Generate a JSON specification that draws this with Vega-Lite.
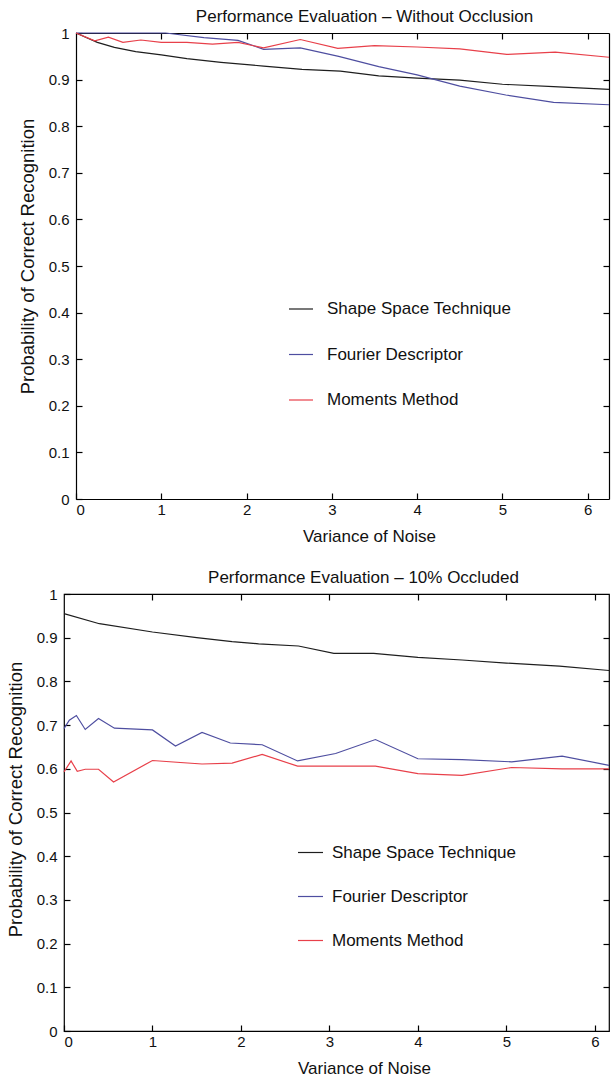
{
  "$schema": "https://vega.github.io/schema/vega-lite/v6.json",
  "padding": {"left": 5, "top": 8, "right": 0, "bottom": 0},
  "background": "#ffffff",
  "config": {
    "view": {"stroke": "#000000", "strokeWidth": 1.2},
    "font": "Liberation Sans",
    "axis": {
      "grid": false,
      "domain": false,
      "domainColor": "#000000",
      "domainWidth": 1.2,
      "tickColor": "#000000",
      "tickWidth": 1.2,
      "tickSize": -6,
      "labelFont": "Liberation Sans",
      "labelFontSize": 15,
      "labelColor": "#111111",
      "titleFont": "Liberation Sans",
      "titleFontSize": 17,
      "titleFontWeight": "normal",
      "titleColor": "#111111"
    },
    "legend": {
      "labelFont": "Liberation Sans",
      "labelFontSize": 17,
      "labelColor": "#111111",
      "labelLimit": 400,
      "padding": 0
    },
    "title": {"font": "Liberation Sans", "fontSize": 17, "fontWeight": "normal", "color": "#111111"}
  },
  "datasets": {
    "top": [
      {"method": "Shape Space Technique", "v": 0, "p": 1.0},
      {"method": "Shape Space Technique", "v": 0.25, "p": 0.980},
      {"method": "Shape Space Technique", "v": 0.45, "p": 0.969},
      {"method": "Shape Space Technique", "v": 0.7, "p": 0.960},
      {"method": "Shape Space Technique", "v": 1.0, "p": 0.953},
      {"method": "Shape Space Technique", "v": 1.3, "p": 0.945},
      {"method": "Shape Space Technique", "v": 1.7, "p": 0.937},
      {"method": "Shape Space Technique", "v": 2.2, "p": 0.929},
      {"method": "Shape Space Technique", "v": 2.65, "p": 0.922},
      {"method": "Shape Space Technique", "v": 3.1, "p": 0.918},
      {"method": "Shape Space Technique", "v": 3.55, "p": 0.908},
      {"method": "Shape Space Technique", "v": 4.0, "p": 0.903},
      {"method": "Shape Space Technique", "v": 4.5, "p": 0.899},
      {"method": "Shape Space Technique", "v": 5.0, "p": 0.890},
      {"method": "Shape Space Technique", "v": 5.6, "p": 0.885},
      {"method": "Shape Space Technique", "v": 6.25, "p": 0.879},
      {"method": "Fourier Descriptor", "v": 0, "p": 1.0},
      {"method": "Fourier Descriptor", "v": 0.5, "p": 1.0},
      {"method": "Fourier Descriptor", "v": 1.05, "p": 1.0},
      {"method": "Fourier Descriptor", "v": 1.5, "p": 0.99},
      {"method": "Fourier Descriptor", "v": 1.9, "p": 0.984},
      {"method": "Fourier Descriptor", "v": 2.2, "p": 0.965},
      {"method": "Fourier Descriptor", "v": 2.63, "p": 0.968},
      {"method": "Fourier Descriptor", "v": 3.08, "p": 0.950},
      {"method": "Fourier Descriptor", "v": 3.55, "p": 0.928},
      {"method": "Fourier Descriptor", "v": 4.0, "p": 0.910},
      {"method": "Fourier Descriptor", "v": 4.5, "p": 0.886},
      {"method": "Fourier Descriptor", "v": 5.04, "p": 0.867},
      {"method": "Fourier Descriptor", "v": 5.6, "p": 0.851},
      {"method": "Fourier Descriptor", "v": 6.25, "p": 0.846},
      {"method": "Moments Method", "v": 0, "p": 1.0},
      {"method": "Moments Method", "v": 0.22, "p": 0.983},
      {"method": "Moments Method", "v": 0.38, "p": 0.991},
      {"method": "Moments Method", "v": 0.55, "p": 0.980},
      {"method": "Moments Method", "v": 0.76, "p": 0.985},
      {"method": "Moments Method", "v": 1.0, "p": 0.980},
      {"method": "Moments Method", "v": 1.3, "p": 0.980},
      {"method": "Moments Method", "v": 1.6, "p": 0.976},
      {"method": "Moments Method", "v": 1.9, "p": 0.980},
      {"method": "Moments Method", "v": 2.2, "p": 0.968},
      {"method": "Moments Method", "v": 2.63, "p": 0.986},
      {"method": "Moments Method", "v": 3.07, "p": 0.967},
      {"method": "Moments Method", "v": 3.5, "p": 0.973},
      {"method": "Moments Method", "v": 4.0, "p": 0.970},
      {"method": "Moments Method", "v": 4.5, "p": 0.966},
      {"method": "Moments Method", "v": 5.05, "p": 0.954},
      {"method": "Moments Method", "v": 5.62, "p": 0.959},
      {"method": "Moments Method", "v": 6.25, "p": 0.948}
    ],
    "bottom": [
      {"method": "Shape Space Technique", "v": 0, "p": 0.955},
      {"method": "Shape Space Technique", "v": 0.4, "p": 0.932},
      {"method": "Shape Space Technique", "v": 1.0, "p": 0.913},
      {"method": "Shape Space Technique", "v": 1.5, "p": 0.900},
      {"method": "Shape Space Technique", "v": 1.9, "p": 0.891},
      {"method": "Shape Space Technique", "v": 2.2, "p": 0.886},
      {"method": "Shape Space Technique", "v": 2.65, "p": 0.881},
      {"method": "Shape Space Technique", "v": 3.05, "p": 0.864},
      {"method": "Shape Space Technique", "v": 3.5, "p": 0.864},
      {"method": "Shape Space Technique", "v": 4.0, "p": 0.855},
      {"method": "Shape Space Technique", "v": 4.5, "p": 0.849},
      {"method": "Shape Space Technique", "v": 5.0, "p": 0.842},
      {"method": "Shape Space Technique", "v": 5.6, "p": 0.835},
      {"method": "Shape Space Technique", "v": 6.16, "p": 0.825},
      {"method": "Fourier Descriptor", "v": 0, "p": 0.692},
      {"method": "Fourier Descriptor", "v": 0.06, "p": 0.711},
      {"method": "Fourier Descriptor", "v": 0.14, "p": 0.722},
      {"method": "Fourier Descriptor", "v": 0.24, "p": 0.690},
      {"method": "Fourier Descriptor", "v": 0.39, "p": 0.715},
      {"method": "Fourier Descriptor", "v": 0.57, "p": 0.693},
      {"method": "Fourier Descriptor", "v": 1.0, "p": 0.689},
      {"method": "Fourier Descriptor", "v": 1.26, "p": 0.652},
      {"method": "Fourier Descriptor", "v": 1.56, "p": 0.683},
      {"method": "Fourier Descriptor", "v": 1.88, "p": 0.659},
      {"method": "Fourier Descriptor", "v": 2.24, "p": 0.655},
      {"method": "Fourier Descriptor", "v": 2.64, "p": 0.618},
      {"method": "Fourier Descriptor", "v": 3.07, "p": 0.635},
      {"method": "Fourier Descriptor", "v": 3.52, "p": 0.667},
      {"method": "Fourier Descriptor", "v": 4.0, "p": 0.623},
      {"method": "Fourier Descriptor", "v": 4.5, "p": 0.621},
      {"method": "Fourier Descriptor", "v": 5.06, "p": 0.616},
      {"method": "Fourier Descriptor", "v": 5.63, "p": 0.629},
      {"method": "Fourier Descriptor", "v": 6.16, "p": 0.608},
      {"method": "Moments Method", "v": 0, "p": 0.593},
      {"method": "Moments Method", "v": 0.08, "p": 0.618},
      {"method": "Moments Method", "v": 0.15, "p": 0.594},
      {"method": "Moments Method", "v": 0.24, "p": 0.599},
      {"method": "Moments Method", "v": 0.39, "p": 0.599},
      {"method": "Moments Method", "v": 0.56, "p": 0.570},
      {"method": "Moments Method", "v": 1.0, "p": 0.619},
      {"method": "Moments Method", "v": 1.56, "p": 0.611},
      {"method": "Moments Method", "v": 1.9, "p": 0.613},
      {"method": "Moments Method", "v": 2.24, "p": 0.633},
      {"method": "Moments Method", "v": 2.64, "p": 0.606},
      {"method": "Moments Method", "v": 3.07, "p": 0.606},
      {"method": "Moments Method", "v": 3.52, "p": 0.606},
      {"method": "Moments Method", "v": 4.0, "p": 0.589},
      {"method": "Moments Method", "v": 4.5, "p": 0.585},
      {"method": "Moments Method", "v": 5.06, "p": 0.603},
      {"method": "Moments Method", "v": 5.63, "p": 0.600},
      {"method": "Moments Method", "v": 6.16, "p": 0.600}
    ]
  },
  "vconcat": [
    {
      "width": 545,
      "height": 466,
      "view": {"stroke": null},
      "data": {"name": "top"},
      "title": {"text": "Performance Evaluation – Without Occlusion", "dx": 28, "offset": 0, "frame": "group"},
      "layer": [
        {
          "mark": {"type": "line", "strokeWidth": 1.2},
          "encoding": {
            "x": {"field": "v", "type": "quantitative", "scale": {"domain": [0, 6.25], "range": [12, 545], "nice": false, "zero": false},
                  "axis": {"orient": "bottom", "domain": true, "values": [0, 1, 2, 3, 4, 5, 6], "format": "d", "labelPadding": 9, "title": "Variance of Noise", "titlePadding": 11, "titleX": 305}},
            "y": {"field": "p", "type": "quantitative", "scale": {"domain": [0, 1], "nice": false},
                  "axis": {"orient": "left", "offset": -12, "domain": true, "values": [0, 0.1, 0.2, 0.3, 0.4, 0.5, 0.6, 0.7, 0.8, 0.9, 1], "format": "~g", "labelPadding": 13, "title": "Probability of Correct Recognition", "titleFontSize": 18.5, "titlePadding": 11, "titleY": 223}},
            "color": {"field": "method", "type": "nominal",
                      "scale": {"domain": ["Shape Space Technique", "Fourier Descriptor", "Moments Method"], "range": ["#1e1e1e", "#4e4ea0", "#e8404a"]},
                      "legend": {"orient": "none", "legendX": 224, "legendY": 263, "title": null, "symbolType": "stroke", "symbolSize": 576, "symbolStrokeWidth": 1.2, "rowPadding": 24.5, "labelOffset": 13, "direction": "vertical"}}
          }
        },
        {
          "mark": {"type": "line", "opacity": 0},
          "encoding": {
            "x": {"field": "v", "type": "quantitative", "axis": {"orient": "top", "domain": true, "values": [1, 2, 3, 4, 5, 6], "labels": false, "title": null}},
            "y": {"field": "p", "type": "quantitative", "axis": {"orient": "right", "domain": true, "values": [0.1, 0.2, 0.3, 0.4, 0.5, 0.6, 0.7, 0.8, 0.9], "labels": false, "title": null}},
            "detail": {"field": "method"}
          }
        }
      ],
      "resolve": {"axis": {"x": "independent", "y": "independent"}}
    },
    {
      "width": 545,
      "height": 437,
      "data": {"name": "bottom"},
      "title": {"text": "Performance Evaluation – 10% Occluded", "dx": 27, "offset": 0, "frame": "group"},
      "layer": [
        {
          "mark": {"type": "line", "strokeWidth": 1.2},
          "encoding": {
            "x": {"field": "v", "type": "quantitative", "scale": {"domain": [0, 6.16], "nice": false, "zero": false},
                  "axis": {"orient": "bottom", "values": [0, 1, 2, 3, 4, 5, 6], "format": "d", "labelPadding": 9, "title": "Variance of Noise", "titlePadding": 11, "titleX": 300}},
            "y": {"field": "p", "type": "quantitative", "scale": {"domain": [0, 1], "nice": false},
                  "axis": {"orient": "left", "values": [0, 0.1, 0.2, 0.3, 0.4, 0.5, 0.6, 0.7, 0.8, 0.9, 1], "format": "~g", "labelPadding": 13, "title": "Probability of Correct Recognition", "titleFontSize": 18.5, "titlePadding": 11, "titleY": 205}},
            "color": {"field": "method", "type": "nominal",
                      "scale": {"domain": ["Shape Space Technique", "Fourier Descriptor", "Moments Method"], "range": ["#1e1e1e", "#4e4ea0", "#e8404a"]},
                      "legend": {"orient": "none", "legendX": 233, "legendY": 245, "title": null, "symbolType": "stroke", "symbolSize": 625, "symbolStrokeWidth": 1.2, "rowPadding": 22, "labelOffset": 8, "direction": "vertical"}}
          }
        },
        {
          "mark": {"type": "line", "opacity": 0},
          "encoding": {
            "x": {"field": "v", "type": "quantitative", "axis": {"orient": "top", "values": [1, 2, 3, 4, 5, 6], "labels": false, "title": null}},
            "y": {"field": "p", "type": "quantitative", "axis": {"orient": "right", "values": [0.1, 0.2, 0.3, 0.4, 0.5, 0.6, 0.7, 0.8, 0.9], "labels": false, "title": null}},
            "detail": {"field": "method"}
          }
        }
      ],
      "resolve": {"axis": {"x": "independent", "y": "independent"}}
    }
  ],
  "resolve": {"scale": {"color": "independent"}, "legend": {"color": "independent"}},
  "spacing": 24
}
